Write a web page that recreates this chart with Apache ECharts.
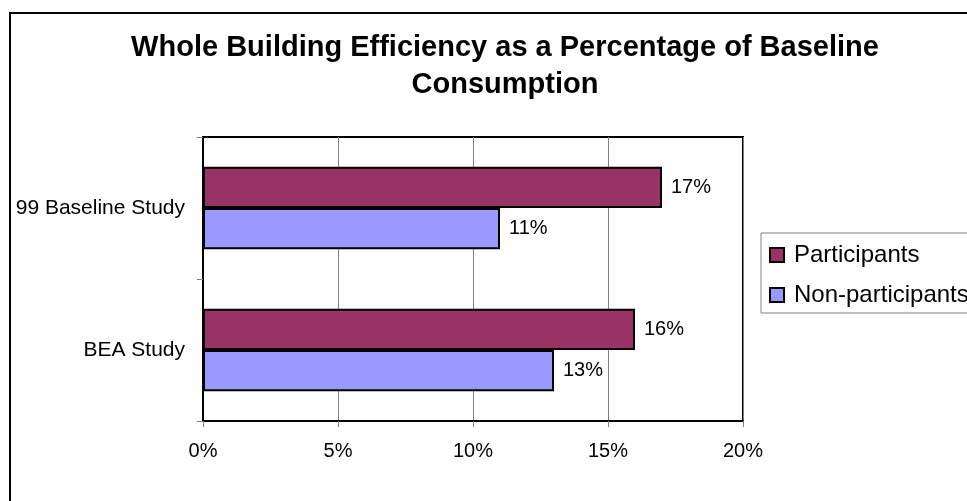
<!DOCTYPE html>
<html>
<head>
<meta charset="utf-8">
<script src="https://cdn.jsdelivr.net/npm/echarts@6/dist/echarts.min.js"></script>
<style>
  html, body { margin: 0; padding: 0; background: #fff; }
  #chart { width: 967px; height: 501px; }
</style>
</head>
<body>
<div id="chart"></div>
<script>
// Study names shown on the category axis (top to bottom)
const studies = ['99 Baseline Study', 'BEA Study'];
// Savings as a percentage of baseline consumption
const participants = [17, 16];
const nonParticipants = [11, 13];
// Value axis range and step, in percent
const axisMin = 0;
const axisMax = 20;
const axisStep = 5;

const chart = echarts.init(document.getElementById('chart'), null, { renderer: 'canvas' });
const FONT = 'Liberation Sans, Arial, sans-serif';

chart.setOption({
  animation: false,
  backgroundColor: '#fff',
  title: {
    text: 'Whole Building Efficiency as a Percentage of Baseline\nConsumption',
    left: 500,
    top: 24,
    textAlign: 'center',
    textStyle: { fontFamily: FONT, fontWeight: 'bold', fontSize: 29, lineHeight: 37, color: '#000' }
  },
  graphic: [{
    type: 'rect',
    shape: { x: 10, y: 13, width: 1000, height: 600 },
    style: { fill: 'none', stroke: '#000', lineWidth: 2 },
    silent: true,
    z: 0
  }],
  legend: {
    orient: 'vertical',
    left: 761,
    top: 233,
    itemWidth: 14,
    itemHeight: 14,
    itemGap: 14,
    padding: [9, 10, 5, 8],
    borderColor: '#808080',
    borderWidth: 1,
    textStyle: { fontFamily: FONT, fontSize: 24, lineHeight: 26, color: '#000', padding: [0, 0, 0, 5] },
    data: [
      { name: 'Participants', icon: 'rect', itemStyle: { borderColor: '#000', borderWidth: 2 } },
      { name: 'Non-participants', icon: 'rect', itemStyle: { borderColor: '#000', borderWidth: 2 } }
    ]
  },
  grid: {
    left: 203,
    top: 137,
    right: 224,
    bottom: 80,
    show: true,
    borderColor: '#000',
    borderWidth: 2,
    backgroundColor: '#fff',
    containLabel: false
  },
  xAxis: {
    type: 'value',
    min: axisMin,
    max: axisMax,
    interval: axisStep,
    axisLine: { show: true, lineStyle: { color: '#000', width: 2 } },
    axisTick: { show: true, length: 6, lineStyle: { color: '#808080', width: 1 } },
    splitLine: { show: true, lineStyle: { color: '#808080', width: 1 } },
    axisLabel: {
      formatter: '{value}%',
      margin: 20,
      fontFamily: FONT,
      fontSize: 20,
      color: '#000'
    }
  },
  yAxis: {
    type: 'category',
    data: studies,
    inverse: true,
    axisLine: { show: true, lineStyle: { color: '#000', width: 2 } },
    axisTick: { show: true, length: 6, lineStyle: { color: '#808080', width: 1 } },
    axisLabel: { margin: 18, fontFamily: FONT, fontSize: 21, color: '#000' }
  },
  series: [
    {
      name: 'Participants',
      type: 'bar',
      data: participants,
      barGap: '0%',
      barCategoryGap: '42%',
      itemStyle: { color: '#993366', borderColor: '#000', borderWidth: 2 },
      label: {
        show: true,
        position: 'right',
        distance: 9,
        formatter: '{c}%',
        fontFamily: FONT,
        fontSize: 20,
        color: '#000'
      }
    },
    {
      name: 'Non-participants',
      type: 'bar',
      data: nonParticipants,
      itemStyle: { color: '#9999FF', borderColor: '#000', borderWidth: 2 },
      label: {
        show: true,
        position: 'right',
        distance: 9,
        formatter: '{c}%',
        fontFamily: FONT,
        fontSize: 20,
        color: '#000'
      }
    }
  ]
});
</script>
</body>
</html>
